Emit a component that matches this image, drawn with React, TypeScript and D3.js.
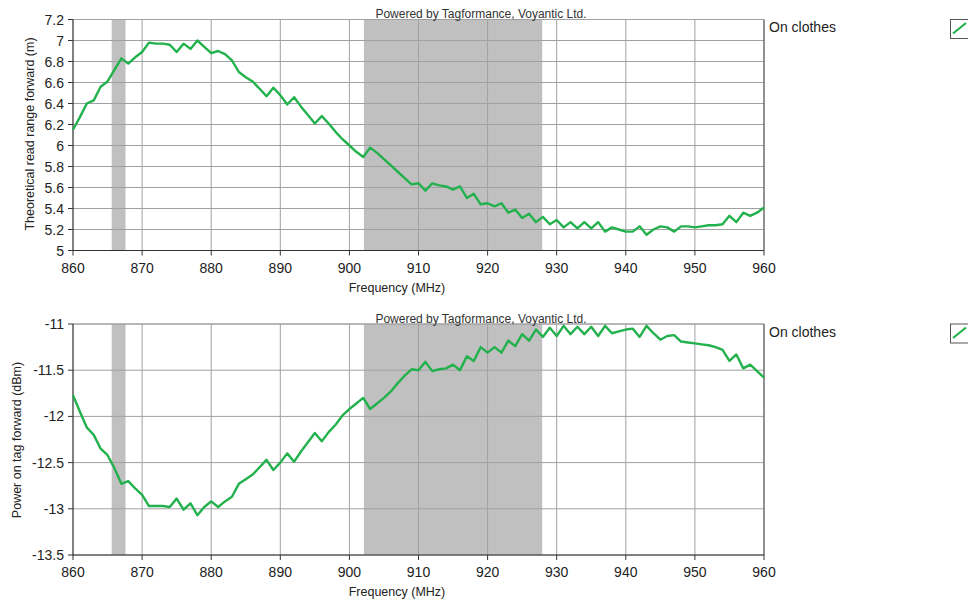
import React from "react";
import * as d3 from "d3";

const frequencies: number[] = d3.range(860, 961, 1);

const readRange: number[] = [
  6.15, 6.27, 6.40, 6.43, 6.56, 6.61, 6.72, 6.83, 6.78, 6.84,
  6.89, 6.98, 6.97, 6.97, 6.96, 6.89, 6.97, 6.92, 7.00, 6.94,
  6.88, 6.90, 6.87, 6.81, 6.70, 6.65, 6.61, 6.54, 6.47, 6.55,
  6.48, 6.39, 6.46, 6.37, 6.29, 6.21, 6.28, 6.21, 6.13, 6.06,
  6.00, 5.94, 5.89, 5.98, 5.93, 5.87, 5.81, 5.75, 5.69, 5.63,
  5.64, 5.57, 5.64, 5.62, 5.61, 5.58, 5.61, 5.50, 5.54, 5.44,
  5.45, 5.42, 5.45, 5.36, 5.39, 5.31, 5.35, 5.27, 5.32, 5.25,
  5.29, 5.22, 5.27, 5.21, 5.27, 5.21, 5.27, 5.18, 5.22, 5.20,
  5.18, 5.18, 5.23, 5.15, 5.20, 5.23, 5.22, 5.18, 5.23, 5.23,
  5.22, 5.23, 5.24, 5.24, 5.25, 5.33, 5.27, 5.36, 5.33, 5.36,
  5.41,
];

const powerOnTag: number[] = [
  -11.77, -11.95, -12.12, -12.20, -12.35, -12.42, -12.56, -12.73, -12.70, -12.78,
  -12.85, -12.97, -12.97, -12.97, -12.98, -12.89, -13.01, -12.94, -13.07, -12.98,
  -12.92, -12.98, -12.92, -12.87, -12.73, -12.68, -12.63, -12.55, -12.47, -12.58,
  -12.50, -12.40, -12.49, -12.38, -12.28, -12.18, -12.27, -12.17, -12.09, -11.99,
  -11.92, -11.86, -11.80, -11.92, -11.86, -11.80, -11.73, -11.64, -11.56, -11.49,
  -11.50, -11.41, -11.51, -11.49, -11.48, -11.44, -11.50, -11.35, -11.40, -11.25,
  -11.31, -11.25, -11.31, -11.18, -11.24, -11.11, -11.18, -11.06, -11.14, -11.04,
  -11.13, -11.02, -11.11, -11.03, -11.11, -11.03, -11.13, -11.02, -11.10, -11.08,
  -11.06, -11.05, -11.14, -11.02, -11.10, -11.17, -11.13, -11.12, -11.19, -11.20,
  -11.21, -11.22, -11.23, -11.25, -11.28, -11.40, -11.33, -11.48, -11.44, -11.51,
  -11.58,
];

const xTicks: number[] = [860, 870, 880, 890, 900, 910, 920, 930, 940, 950, 960];
const rangeTicks: number[] = [5, 5.2, 5.4, 5.6, 5.8, 6, 6.2, 6.4, 6.6, 6.8, 7, 7.2];
const powerTicks: number[] = [-13.5, -13, -12.5, -12, -11.5, -11];
const shadedBands: [number, number][] = [[865.6, 867.6], [902.1, 927.9]];

const seriesName = "On clothes";
const watermark = "Powered by Tagformance, Voyantic Ltd.";
const xTitle = "Frequency (MHz)";

const GREEN = "#22b14c";
const FONT = "'Liberation Sans', Arial, sans-serif";

interface PanelProps {
  top: number;
  bottom: number;
  values: number[];
  yDomain: [number, number];
  yTicks: number[];
  yTitle: string;
  yTitleX: number;
  yTitleY: number;
}

function Panel({ top, bottom, values, yDomain, yTicks, yTitle, yTitleX, yTitleY }: PanelProps) {
  const left = 73;
  const right = 764;
  const x = d3.scaleLinear().domain([860, 960]).range([left, right]);
  const y = d3.scaleLinear().domain(yDomain).range([bottom, top]);
  const line = d3
    .line<number>()
    .x((_, i) => x(frequencies[i]))
    .y((d) => y(d));
  const fmt = (v: number) => String(Math.round(v * 10) / 10);

  return (
    <g>
      <rect x={left} y={top} width={right - left} height={bottom - top} fill="#ffffff" />
      {shadedBands.map(([a, b], i) => (
        <rect key={i} x={x(a)} y={top} width={x(b) - x(a)} height={bottom - top} fill="#c0c0c0" />
      ))}
      {xTicks.map((t) => (
        <line key={"gx" + t} x1={x(t)} x2={x(t)} y1={top} y2={bottom} stroke="#a0a0a0" strokeWidth={1} />
      ))}
      {yTicks.map((t) => (
        <line key={"gy" + t} x1={left} x2={right} y1={y(t)} y2={y(t)} stroke="#a0a0a0" strokeWidth={1} />
      ))}
      <line x1={left} x2={right} y1={top} y2={top} stroke="#a0a0a0" strokeWidth={1} />
      <line x1={right} x2={right} y1={top} y2={bottom} stroke="#555555" strokeWidth={1} />
      <line x1={left} x2={left} y1={top} y2={bottom + 0.5} stroke="#333333" strokeWidth={1} />
      <line x1={left} x2={right} y1={bottom} y2={bottom} stroke="#333333" strokeWidth={1} />
      <path d={line(values) || ""} fill="none" stroke={GREEN} strokeWidth={2.4} strokeLinejoin="round" />
      {yTicks.map((t) => (
        <g key={"ty" + t}>
          <line x1={left - 5} x2={left} y1={y(t)} y2={y(t)} stroke="#333333" />
          <text x={left - 9} y={y(t)} dy="0.36em" textAnchor="end" fontSize={14} fill="#222" fontFamily={FONT}>
            {fmt(t)}
          </text>
        </g>
      ))}
      {xTicks.map((t) => (
        <g key={"tx" + t}>
          <line x1={x(t)} x2={x(t)} y1={bottom} y2={bottom + 5} stroke="#333333" />
          <text x={x(t)} y={bottom + 22} textAnchor="middle" fontSize={14} fill="#222" fontFamily={FONT}>
            {t}
          </text>
        </g>
      ))}
      <text x={397} y={bottom + 41} textAnchor="middle" fontSize={12.5} fill="#222" fontFamily={FONT}>
        {xTitle}
      </text>
      <text
        transform={`translate(${yTitleX},${yTitleY}) rotate(-90)`}
        textAnchor="middle"
        dy="0.35em"
        fontSize={12.5}
        fill="#222"
        fontFamily={FONT}
      >
        {yTitle}
      </text>
      <text x={481} y={top - 1.5} textAnchor="middle" fontSize={12} fill="#333" fontFamily={FONT}>
        {watermark}
      </text>
      <text x={769} y={top + 12.5} fontSize={14} fill="#222" fontFamily={FONT}>
        {seriesName}
      </text>
      <rect x={950.5} y={top} width={20} height={19} fill="#ffffff" stroke="#555555" strokeWidth={1} />
      <line x1={953} x2={966} y1={top + 14} y2={top + 3.5} stroke={GREEN} strokeWidth={2.2} />
    </g>
  );
}

export default function App() {
  return (
    <svg
      width={968}
      height={600}
      style={{ position: "absolute", left: 0, top: 0, background: "#ffffff" }}
    >
      <rect x={0} y={0} width={968} height={600} fill="#ffffff" />
      <Panel
        top={19.5}
        bottom={250.5}
        values={readRange}
        yDomain={[5, 7.2]}
        yTicks={rangeTicks}
        yTitle="Theoretical read range forward (m)"
        yTitleX={30}
        yTitleY={134}
      />
      <Panel
        top={324}
        bottom={555}
        values={powerOnTag}
        yDomain={[-13.5, -11]}
        yTicks={powerTicks}
        yTitle="Power on tag forward (dBm)"
        yTitleX={17}
        yTitleY={440}
      />
    </svg>
  );
}
